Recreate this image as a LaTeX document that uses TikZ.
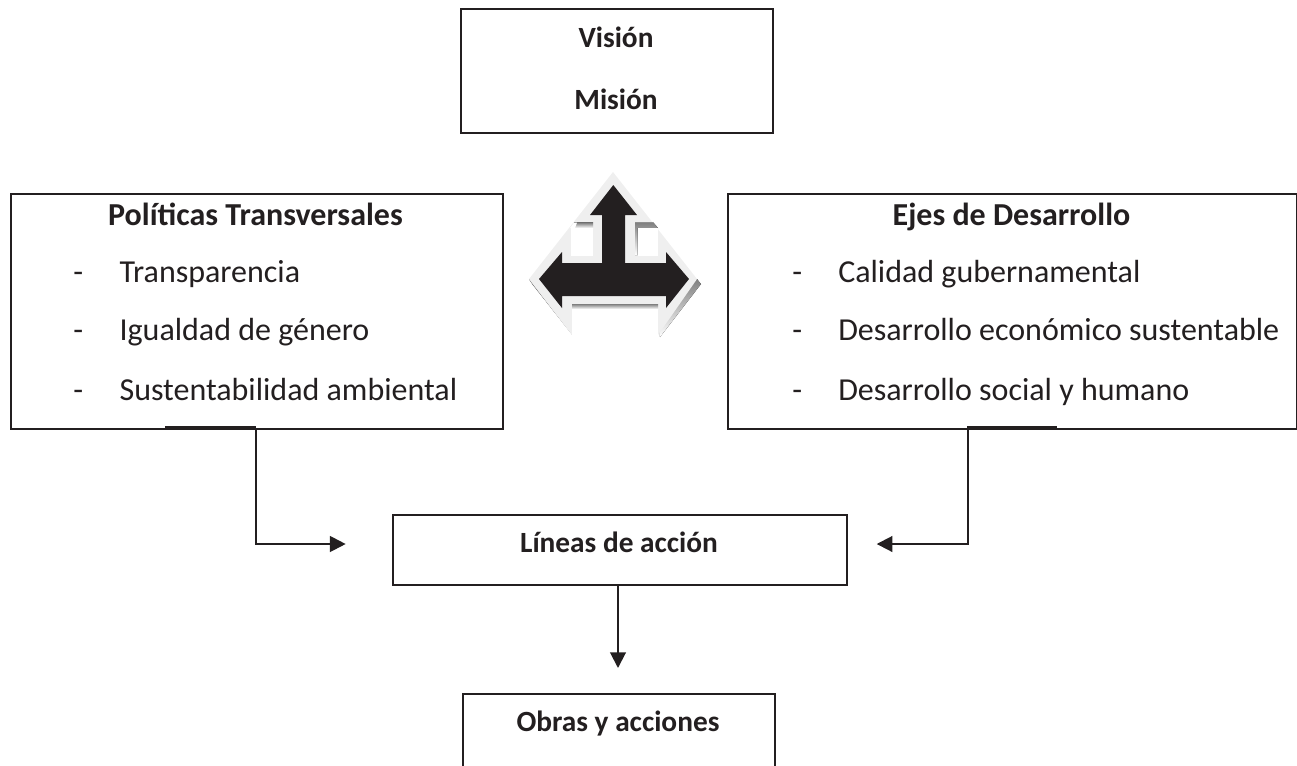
\documentclass[tikz,border=0pt]{standalone}
\usepackage{fontspec}
\setmainfont{Carlito}
\usetikzlibrary{arrows.meta}
\definecolor{ink}{HTML}{231F20}
\definecolor{pale}{HTML}{EFEFEF}
\definecolor{shade}{HTML}{BFBFBF}
\tikzset{
  box/.style={draw=ink,line width=1.5pt,fill=white,inner sep=0pt,anchor=north west},
  title/.style={font=\fontsize{24pt}{28pt}\selectfont\bfseries,text=ink,inner sep=0pt,anchor=base},
  small title/.style={font=\fontsize{22pt}{26pt}\selectfont\bfseries,text=ink,inner sep=0pt,anchor=base},
  item/.style={font=\fontsize{24pt}{28pt}\selectfont,text=ink,inner sep=0pt,anchor=base west},
  conn/.style={draw=ink,line width=1.5pt,-{Triangle[length=11.8pt,width=11.8pt]}},
  ledge/.style={draw=ink,line width=1.5pt}
}
\begin{document}
\begin{tikzpicture}[x=0.75pt,y=-0.75pt]
\useasboundingbox (0,0) rectangle (1297,765);
% boxes
\node[box,minimum width=234pt,minimum height=93pt] (vm) at (460,8) {};
\node[small title] (vision) at (616,47) {Visión};
\node[small title] (mision) at (616,109) {Misión};
\node[box,minimum width=369pt,minimum height=176.6pt] (pol) at (10,193) {};
\node[title] (polt) at (255.5,225) {Políticas Transversales};
\node[item] (pold1) at (73,282.7) {-};
\node[item] (pol1) at (119.3,282.7) {Transparencia};
\node[item] (pold2) at (73,340.7) {-};
\node[item] (pol2) at (119.3,340.7) {Igualdad de género};
\node[item] (pold3) at (73,400) {-};
\node[item] (pol3) at (119.3,400) {Sustentabilidad ambiental};
\node[box,minimum width=426.75pt,minimum height=176.6pt] (eje) at (727,193) {};
\node[title] (ejet) at (1011.5,225) {Ejes de Desarrollo};
\node[item] (ejed1) at (792,282.7) {-};
\node[item] (eje1) at (838,282.7) {Calidad gubernamental};
\node[item] (ejed2) at (792,340.7) {-};
\node[item] (eje2) at (838,340.7) {Desarrollo económico sustentable};
\node[item] (ejed3) at (792,400) {-};
\node[item] (eje3) at (838,400) {Desarrollo social y humano};
\node[box,minimum width=340.5pt,minimum height=52.5pt] (lin) at (392,514) {};
\node[small title] (lint) at (619,552.7) {Líneas de acción};
\node[box,minimum width=234pt,minimum height=90pt] (obr) at (462,693) {};
\node[small title] (obrt) at (618,731.7) {Obras y acciones};
% connectors
\coordinate (pa) at (256,428.5);
\coordinate (pb) at (165,427);
\coordinate (pc) at (256,427);
\coordinate (pe) at (345.7,544);
\coordinate (ea) at (968,428.5);
\coordinate (eb) at (1056.7,427);
\coordinate (ec) at (967,427);
\coordinate (ee) at (876.7,544);
\coordinate (oa) at (618,584);
\coordinate (oe) at (618,668);
\draw[ledge] (pb) -- (pc);
\draw[ledge] (ec) -- (eb);
\draw[conn] (pa) |- (pe);
\draw[conn] (ea) |- (ee);
\draw[conn] (oa) -- (oe);
% block arrow
\fill[shade] (529,279) -- (533,285) -- (574,337) -- (572,310) -- cycle;
\fill[shade] (697,279) -- (701,284) -- (660,337) -- (658,300) -- cycle;
\fill[pale] (613,172) -- (697,279) -- (658,335) -- (658,304) -- (572,304) -- (572,335) -- (529,279) -- cycle;
\fill[shade] (572,304) rectangle (658,309);
\fill[white] (572,309) rectangle (658,340);
\fill[shade] (574,222.7) -- (593,222.7) -- (593,228) -- (574,228) -- cycle;
\fill[white] (571,228) rectangle (593,256);
\fill[white] (570,228) -- (574,222.7) -- (577,222.7) -- (575,228) -- cycle;
\fill[shade] (635,222.7) -- (653.5,222.7) -- (658,228) -- (637.6,228) -- (637.6,255) -- (635,255) -- cycle;
\fill[white] (637.6,228) rectangle (658,256);
\fill[ink] (613.3,185) -- (637,215) -- (625,215) -- (625,263) -- (666,263) -- (666,252) -- (689,279) -- (666,308) -- (666,296) -- (562,296) -- (562,308) -- (539,279) -- (562,252) -- (562,263) -- (602,263) -- (602,215) -- (590,215) -- cycle;
\end{tikzpicture}
\end{document}
